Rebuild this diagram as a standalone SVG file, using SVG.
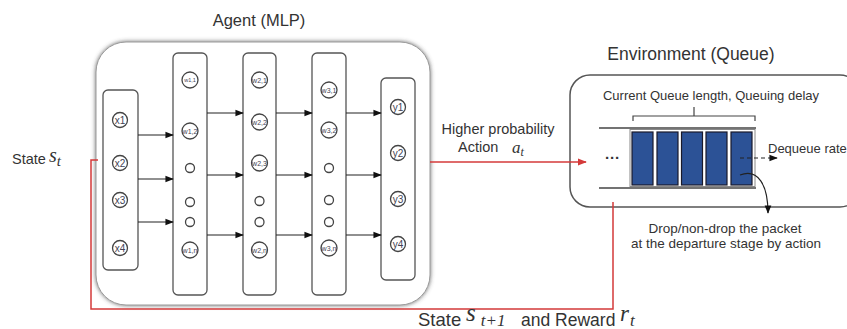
<svg xmlns="http://www.w3.org/2000/svg" width="847" height="329" viewBox="0 0 847 329">
  <style>
    .t { font-family: "Liberation Sans", Arial, sans-serif; fill: #333; }
    .m { font-family: "Liberation Serif", "Times New Roman", serif; font-style: italic; fill: #333; }
    .col { fill: #fff; stroke: #555; stroke-width: 1.3; }
    .nd { fill: #fff; stroke: #444; stroke-width: 1.3; }
    .nl { font-family: "Liberation Sans", Arial, sans-serif; fill: #445; text-anchor: middle; }
    .ar { stroke: #222; stroke-width: 1.2; fill: none; marker-end: url(#ah); }
    .red { stroke: #d43a3a; stroke-width: 1.5; fill: none; }
    .pkt { fill: #2c5296; stroke: #1a1a2a; stroke-width: 1.2; }
  </style>
  <defs>
    <marker id="ah" viewBox="0 0 10 10" refX="9" refY="5" markerWidth="7" markerHeight="7" orient="auto">
      <path d="M0,1 L10,5 L0,9 z" fill="#111"/>
    </marker>
    <marker id="ahr" viewBox="0 0 10 10" refX="9" refY="5" markerWidth="6" markerHeight="6" orient="auto">
      <path d="M0,1 L10,5 L0,9 z" fill="#d43a3a"/>
    </marker>
    <filter id="sh" x="-10%" y="-10%" width="120%" height="120%">
      <feDropShadow dx="0" dy="0" stdDeviation="2.2" flood-color="#444" flood-opacity="0.8"/>
    </filter>
  </defs>

  <rect width="847" height="329" fill="#fff"/>

  <!-- Agent -->
  <g id="agent">
    <text class="t" x="259" y="26" font-size="16.5" text-anchor="middle">Agent (MLP)</text>
    <rect x="96" y="42" width="334" height="263" rx="30" fill="#fff" stroke="#999" stroke-width="1" filter="url(#sh)"/>
  </g>

  <!-- Input layer -->
  <g id="input-layer">
    <rect class="col" x="103" y="90" width="35" height="180" rx="5"/>
    <circle class="nd" cx="120" cy="120" r="7.5"/><text class="nl" x="120" y="123.5" font-size="10">x1</text>
    <circle class="nd" cx="120" cy="163" r="7.5"/><text class="nl" x="120" y="166.5" font-size="10">x2</text>
    <circle class="nd" cx="120" cy="200" r="7.5"/><text class="nl" x="120" y="203.5" font-size="10">x3</text>
    <circle class="nd" cx="120" cy="248" r="7.5"/><text class="nl" x="120" y="251.5" font-size="10">x4</text>
  </g>

  <!-- Hidden layer 1 -->
  <g id="hidden-1">
    <rect class="col" x="173" y="53" width="34" height="242" rx="5"/>
    <circle class="nd" cx="190" cy="80" r="8"/><text class="nl" x="190" y="82" font-size="5.5">w1,1</text>
    <circle class="nd" cx="190" cy="131" r="8"/><text class="nl" x="190" y="133.5" font-size="7">w1,2</text>
    <circle class="nd" cx="190" cy="168" r="4.5"/>
    <circle class="nd" cx="190" cy="202" r="4.5"/>
    <circle class="nd" cx="190" cy="222" r="4.5"/>
    <circle class="nd" cx="190" cy="250" r="8"/><text class="nl" x="190" y="252.5" font-size="7">w1,n</text>
  </g>

  <!-- Hidden layer 2 -->
  <g id="hidden-2">
    <rect class="col" x="243" y="53" width="33" height="242" rx="5"/>
    <circle class="nd" cx="259.5" cy="80" r="8"/><text class="nl" x="259.5" y="82.5" font-size="7">w2,1</text>
    <circle class="nd" cx="259.5" cy="122" r="8"/><text class="nl" x="259.5" y="124.5" font-size="7">w2,2</text>
    <circle class="nd" cx="259.5" cy="163" r="8"/><text class="nl" x="259.5" y="165.5" font-size="7">w2,3</text>
    <circle class="nd" cx="259.5" cy="201" r="4.5"/>
    <circle class="nd" cx="259.5" cy="222" r="4.5"/>
    <circle class="nd" cx="259.5" cy="250" r="8"/><text class="nl" x="259.5" y="252.5" font-size="7">w2,n</text>
  </g>

  <!-- Hidden layer 3 -->
  <g id="hidden-3">
    <rect class="col" x="312" y="53" width="34" height="242" rx="5"/>
    <circle class="nd" cx="329" cy="90" r="8"/><text class="nl" x="329" y="92.5" font-size="7">w3,1</text>
    <circle class="nd" cx="329" cy="130" r="8"/><text class="nl" x="329" y="132.5" font-size="7">w3,2</text>
    <circle class="nd" cx="329" cy="168" r="4.5"/>
    <circle class="nd" cx="329" cy="200" r="4.5"/>
    <circle class="nd" cx="329" cy="222" r="4.5"/>
    <circle class="nd" cx="329" cy="248" r="8"/><text class="nl" x="329" y="250.5" font-size="7">w3,n</text>
  </g>

  <!-- Output layer -->
  <g id="output-layer">
    <rect class="col" x="381" y="78" width="34" height="202" rx="5"/>
    <circle class="nd" cx="398" cy="107" r="7.5"/><text class="nl" x="398" y="110.5" font-size="10">y1</text>
    <circle class="nd" cx="398" cy="153" r="7.5"/><text class="nl" x="398" y="156.5" font-size="10">y2</text>
    <circle class="nd" cx="398" cy="199" r="7.5"/><text class="nl" x="398" y="202.5" font-size="10">y3</text>
    <circle class="nd" cx="398" cy="244" r="7.5"/><text class="nl" x="398" y="247.5" font-size="10">y4</text>
  </g>

  <!-- Environment -->
  <g id="environment">
    <text class="t" x="691" y="60" font-size="17.5" text-anchor="middle">Environment (Queue)</text>
    <rect x="570" y="75" width="290" height="132" rx="20" fill="#fff" stroke="#555" stroke-width="1.5"/>
    <text class="t" x="711" y="100" font-size="13" text-anchor="middle">Current Queue length, Queuing delay</text>
    <path d="M633,121 L633,116 L755,116 L755,121 M694,116 L694,107" stroke="#444" stroke-width="1.2" fill="none"/>
    <line x1="599" y1="128" x2="756" y2="128" stroke="#444" stroke-width="1.5"/>
    <line x1="599" y1="188" x2="756" y2="188" stroke="#444" stroke-width="1.5"/>
    <rect x="630" y="129.5" width="125" height="57" fill="#fff" stroke="#888" stroke-width="1"/>
    <rect class="pkt" x="632" y="132" width="21" height="53"/>
    <rect class="pkt" x="657" y="132" width="21" height="53"/>
    <rect class="pkt" x="681.5" y="132" width="21" height="53"/>
    <rect class="pkt" x="706" y="132" width="21" height="53"/>
    <rect class="pkt" x="731" y="132" width="21" height="53"/>
    <text class="t" x="605" y="163" font-size="15" font-weight="bold">···</text>
    <line x1="740" y1="158" x2="777" y2="158" stroke="#222" stroke-width="1.2" stroke-dasharray="4,3" marker-end="url(#ah)"/>
    <text class="t" x="768" y="153" font-size="13">Dequeue rate</text>
    <path d="M740,175 C758,168 768,185 768,213" class="ar"/>
    <text class="t" x="725" y="233" font-size="13.5" text-anchor="middle">Drop/non-drop the packet</text>
    <text class="t" x="726" y="248" font-size="13.5" text-anchor="middle">at the departure stage by action</text>
  </g>

  <!-- Connectors -->
  <g id="connectors">
    <line class="ar" x1="138" y1="135" x2="173" y2="135"/>
    <line class="ar" x1="138" y1="179" x2="173" y2="179"/>
    <line class="ar" x1="138" y1="222" x2="173" y2="222"/>
    <line class="ar" x1="207" y1="113" x2="243" y2="113"/>
    <line class="ar" x1="207" y1="175" x2="243" y2="175"/>
    <line class="ar" x1="207" y1="235" x2="243" y2="235"/>
    <line class="ar" x1="276" y1="113" x2="312" y2="113"/>
    <line class="ar" x1="276" y1="175" x2="312" y2="175"/>
    <line class="ar" x1="276" y1="235" x2="312" y2="235"/>
    <line class="ar" x1="346" y1="113" x2="381" y2="113"/>
    <line class="ar" x1="346" y1="175" x2="381" y2="175"/>
    <line class="ar" x1="346" y1="235" x2="381" y2="235"/>
    <!-- action to environment -->
    <line class="red" x1="430" y1="162" x2="586" y2="162" marker-end="url(#ahr)"/>
    <!-- feedback loop: next state and reward -->
    <polyline class="red" points="613,202 613,309 91,309 91,160 98,160"/>
  </g>

  <!-- Labels -->
  <g id="labels">
    <text class="t" x="12" y="164" font-size="14.5">State</text>
    <text class="m" x="49" y="162" font-size="20">s<tspan font-size="15" dy="4">t</tspan></text>
    <text class="t" x="498" y="134" font-size="14.5" text-anchor="middle">Higher probability</text>
    <text class="t" x="458" y="152" font-size="14.5">Action</text>
    <text class="m" x="512" y="153" font-size="17">a<tspan font-size="12" dy="3">t</tspan></text>
    <text class="t" x="418" y="326" font-size="18.5">State</text>
    <text class="m" x="466" y="321" font-size="25">s<tspan font-size="17" dx="5" dy="5">t+1</tspan></text>
    <text class="t" x="521" y="326" font-size="17.5">and Reward</text>
    <text class="m" x="620" y="321" font-size="23">r<tspan font-size="17" dx="1" dy="5">t</tspan></text>
  </g>
</svg>
